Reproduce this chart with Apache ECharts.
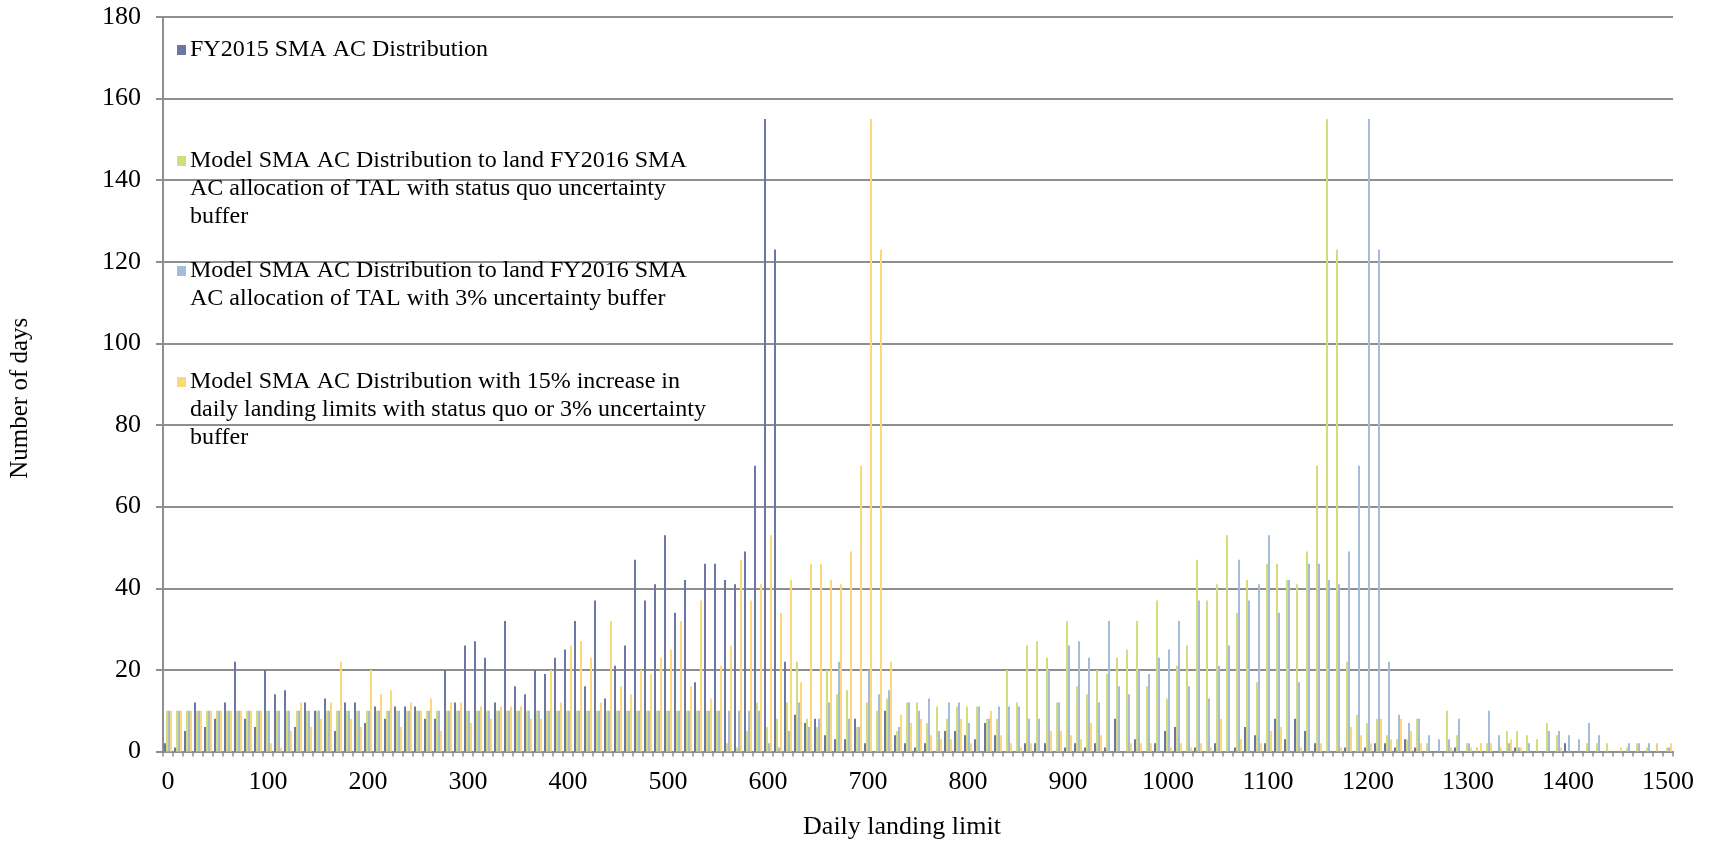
<!DOCTYPE html>
<html>
<head>
<meta charset="utf-8">
<script src="https://cdn.jsdelivr.net/npm/echarts@6/dist/echarts.min.js"></script>
<style>html,body{margin:0;padding:0;background:#fff}#c{width:1715px;height:841px}</style>
</head>
<body>
<div id="c"></div>
<script>
// Daily landing limit categories (bins of 10)
const categories = [
'0','10','20','30','40','50','60','70','80','90',
'100','110','120','130','140','150','160','170','180','190',
'200','210','220','230','240','250','260','270','280','290',
'300','310','320','330','340','350','360','370','380','390',
'400','410','420','430','440','450','460','470','480','490',
'500','510','520','530','540','550','560','570','580','590',
'600','610','620','630','640','650','660','670','680','690',
'700','710','720','730','740','750','760','770','780','790',
'800','810','820','830','840','850','860','870','880','890',
'900','910','920','930','940','950','960','970','980','990',
'1000','1010','1020','1030','1040','1050','1060','1070','1080','1090',
'1100','1110','1120','1130','1140','1150','1160','1170','1180','1190',
'1200','1210','1220','1230','1240','1250','1260','1270','1280','1290',
'1300','1310','1320','1330','1340','1350','1360','1370','1380','1390',
'1400','1410','1420','1430','1440','1450','1460','1470','1480','1490',
'1500'];

const yTicks = {min: 0, max: 180, interval: 20};

// FY2015 SMA AC Distribution
const fy2015 = [
2,1,5,12,6,8,12,22,8,6,
20,14,15,6,12,10,13,5,12,12,
7,11,8,11,11,11,8,8,20,12,
26,27,23,12,32,16,14,20,19,23,
25,32,16,37,13,21,26,47,37,41,
53,34,42,17,46,46,42,41,49,70,
155,123,22,9,7,8,4,3,3,8,
2,0,10,4,2,1,2,0,5,5,
4,3,7,4,0,0,2,2,2,0,
1,2,1,2,1,8,0,3,0,2,
5,6,0,1,0,2,0,1,6,4,
2,8,3,8,5,2,0,0,1,0,
1,2,2,1,3,1,0,0,0,1,
0,0,0,0,0,1,0,0,0,0,
2,0,0,0,0,0,0,0,0,0,
0];

// Model, status quo uncertainty buffer
const modelStatusQuo = [
10,10,10,10,10,10,10,10,10,10,
10,10,10,10,10,10,10,10,10,10,
10,10,10,10,10,10,10,10,10,10,
10,10,10,10,10,10,10,10,10,10,
10,10,10,10,10,10,10,10,10,10,
10,10,10,10,10,10,2,1,5,12,
6,8,12,22,8,6,20,14,15,6,
12,10,13,5,12,12,7,11,8,11,
11,11,8,8,20,12,26,27,23,12,
32,16,14,20,19,23,25,32,16,37,
13,21,26,47,37,41,53,34,42,17,
46,46,42,41,49,70,155,123,22,9,
7,8,4,3,3,8,2,0,10,4,
2,1,2,0,5,5,4,3,7,4,
0,0,2,2,2,0,1,2,1,2,
1];

// Model, 3% uncertainty buffer
const model3pct = [
10,10,10,10,10,10,10,10,10,10,
10,10,10,10,10,10,10,10,10,10,
10,10,10,10,10,10,10,10,10,10,
10,10,10,10,10,10,10,10,10,10,
10,10,10,10,10,10,10,10,10,10,
10,10,10,10,10,10,10,10,10,10,
2,1,5,12,6,8,12,22,8,6,
20,14,15,6,12,10,13,5,12,12,
7,11,8,11,11,11,8,8,20,12,
26,27,23,12,32,16,14,20,19,23,
25,32,16,37,13,21,26,47,37,41,
53,34,42,17,46,46,42,41,49,70,
155,123,22,9,7,8,4,3,3,8,
2,0,10,4,2,1,2,0,5,5,
4,3,7,4,0,0,2,2,2,0,
1];

// Model, 15% increase in daily landing limits
const model15pct = [
10,10,10,10,10,10,10,10,10,10,
2,1,5,12,6,8,12,22,8,6,
20,14,15,6,12,10,13,5,12,12,
7,11,8,11,11,11,8,8,20,12,
26,27,23,12,32,16,14,20,19,23,
25,32,16,37,13,21,26,47,37,41,
53,34,42,17,46,46,42,41,49,70,
155,123,22,9,7,8,4,3,3,8,
2,0,10,4,2,1,2,0,5,5,
4,3,7,4,0,0,2,2,2,0,
1,2,1,2,1,8,0,3,0,2,
5,6,0,1,0,2,0,1,6,4,
2,8,3,8,5,2,0,0,1,0,
1,2,2,1,3,1,0,0,0,1,
0,0,0,0,0,1,0,0,0,0,
2];

const seriesNames = [
'FY2015 SMA AC Distribution',
'Model SMA AC Distribution to land FY2016 SMA AC allocation of TAL with status quo uncertainty buffer',
'Model SMA AC Distribution to land FY2016 SMA AC allocation of TAL with 3% uncertainty buffer',
'Model SMA AC Distribution with 15% increase in daily landing limits with status quo or 3% uncertainty buffer'
];
const legendLines = [
['FY2015 SMA AC Distribution'],
['Model SMA AC Distribution to land FY2016 SMA','AC allocation of TAL with status quo uncertainty','buffer'],
['Model SMA AC Distribution to land FY2016 SMA','AC allocation of TAL with 3% uncertainty buffer'],
['Model SMA AC Distribution with 15% increase in','daily landing limits with status quo or 3% uncertainty','buffer']
];
const seriesData = [fy2015, modelStatusQuo, model3pct, model15pct];
const colors = ['#6B76A5','#D4DC7C','#A4BCD7','#FBD878'];
const legendTops = [36, 147, 257, 368];

const FONT = 'Liberation Serif';
const GRID = '#8E8E8E';

const legends = seriesNames.map((name, i) => ({
  data: [name],
  orient: 'vertical',
  left: 172,
  top: legendTops[i],
  padding: 0,
  itemWidth: 0,
  itemHeight: 0,
  selectedMode: false,
  formatter: function () {
    return legendLines[i].map((l, j) => (j === 0 ? '{sq|    }{g| }' : '{ind| }') + '{t|' + l + '}').join('\n');
  },
  textStyle: {
    fontFamily: FONT, fontSize: 24, color: '#000', lineHeight: 28,
    rich: {
      sq: {width: 9, height: 10, backgroundColor: colors[i], verticalAlign: 'middle', fontSize: 6, lineHeight: 10},
      g: {width: 4, fontSize: 24},
      ind: {width: 13, fontSize: 24},
      t: {fontFamily: FONT, fontSize: 24, color: '#000', lineHeight: 28, verticalAlign: 'middle'}
    }
  }
}));

const chart = echarts.init(document.getElementById('c'), null, {renderer: 'canvas'});
chart.setOption({
  animation: false,
  backgroundColor: '#fff',
  grid: {left: 163, right: 42, top: 17, bottom: 89.5, containLabel: false, outerBoundsMode: 'none'},
  legend: legends,
  tooltip: {show: false},
  xAxis: {
    type: 'category',
    data: categories,
    boundaryGap: true,
    name: 'Daily landing limit',
    nameLocation: 'middle',
    nameGap: 63,
    nameTextStyle: {fontFamily: FONT, fontSize: 26, color: '#000', padding: [0, 32, 0, 0]},
    axisLine: {show: true, lineStyle: {color: GRID, width: 2}},
    axisTick: {show: true, interval: 0, length: 5, alignWithLabel: false, lineStyle: {color: GRID, width: 1.5}},
    axisLabel: {interval: 9, fontFamily: FONT, fontSize: 26, color: '#000', margin: 18, hideOverlap: false},
    splitLine: {show: false}
  },
  yAxis: {
    type: 'value',
    min: yTicks.min, max: yTicks.max, interval: yTicks.interval,
    name: 'Number of days',
    nameLocation: 'middle',
    nameRotate: 90,
    nameGap: 130,
    nameTextStyle: {fontFamily: FONT, fontSize: 25, color: '#000', padding: [0, 28, 0, 0]},
    axisLine: {show: true, lineStyle: {color: GRID, width: 2}},
    axisTick: {show: true, length: 7, lineStyle: {color: GRID, width: 2}},
    axisLabel: {fontFamily: FONT, fontSize: 26, color: '#000', margin: 22},
    splitLine: {show: true, lineStyle: {color: GRID, width: 2}}
  },
  series: seriesNames.map((name, i) => ({
    name: name,
    type: 'bar',
    data: seriesData[i],
    barGap: '0%',
    barCategoryGap: '20%',
    itemStyle: {color: colors[i]},
    emphasis: {disabled: true}
  }))
});
</script>
</body>
</html>
